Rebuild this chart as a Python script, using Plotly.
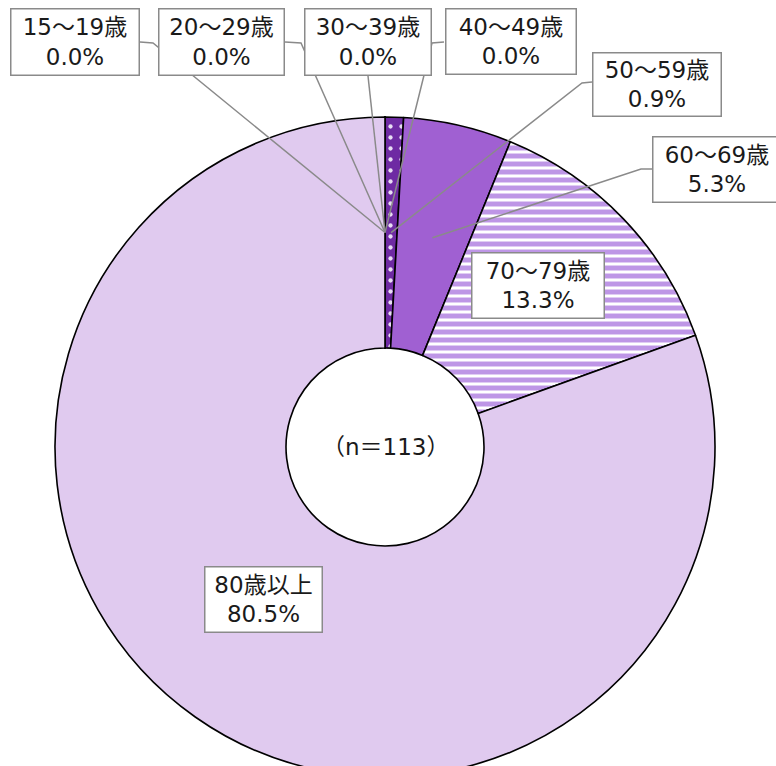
import math
import plotly.graph_objects as go

# ---- data ----
categories = ["15～19歳", "20～29歳", "30～39歳", "40～49歳",
              "50～59歳", "60～69歳", "70～79歳", "80歳以上"]
percent = [0.0, 0.0, 0.0, 0.0, 0.9, 5.3, 13.3, 80.5]
n_total = 113
center_text = "（n＝113）"

# ---- styles ----
slice_colors = ["#6E2AA3", "#6E2AA3", "#6E2AA3", "#6E2AA3",
                "#6E2AA3", "#A060D2", "#FFFFFF", "#E0CAEF"]
pattern_shapes = ["", "", "", "", ".", "", "-", ""]
pattern_fg = ["#FFFFFF", "#FFFFFF", "#FFFFFF", "#FFFFFF",
              "#E8DDF4", "#A060D2", "#BE96E6", "#E0CAEF"]
pattern_bg = ["#6E2AA3", "#6E2AA3", "#6E2AA3", "#6E2AA3",
              "#6E2AA3", "#A060D2", "#FFFFFF", "#E0CAEF"]
pattern_size = [8, 8, 8, 8, 11, 8, 8, 8]
pattern_sol = [0.2, 0.2, 0.2, 0.2, 0.12, 0.3, 0.62, 0.3]

W, H = 776, 790
CX, CY, R = 385, 447, 330
HOLE = 0.3
FONT = "DejaVu Sans, Noto Sans CJK JP, sans-serif"
FS = 23


def px(x):
    return x / W


def py(y):
    return 1 - y / H


fig = go.Figure()
fig.add_trace(go.Pie(
    labels=categories,
    values=percent,
    sort=False,
    direction="clockwise",
    rotation=0,
    hole=HOLE,
    textinfo="none",
    hoverinfo="label+percent",
    showlegend=False,
    domain=dict(x=[px(CX - R), px(CX + R)], y=[py(CY + R), py(CY - R)]),
    marker=dict(
        colors=slice_colors,
        line=dict(color="#000000", width=1.6),
        pattern=dict(shape=pattern_shapes, fgcolor=pattern_fg, bgcolor=pattern_bg,
                     size=pattern_size, solidity=pattern_sol, fillmode="replace"),
    ),
))

# label boxes: (center x, center y, width, height) in pixels
boxes = [
    (74.5, 42.5, 131, 69),
    (221, 42.5, 128, 69),
    (367.5, 41.5, 129, 69),
    (510.5, 41, 133, 68),
    (657, 84.5, 131, 66),
    (717, 169, 131, 68),
    (537.5, 286, 135, 68),
    (263, 599, 120, 68),
]
# leader-line start and elbow points (pixels); None = no leader
leaders = [
    [(140, 42), (153, 43)],
    [(285, 42), (301, 43)],
    [(368, 76)],
    [(444, 42), (432, 43)],
    [(592, 82), (582, 83)],
    [(652, 169), (641, 169)],
    None,
    None,
]

rm = R * (1 + HOLE) / 2
cum = 0.0
total = sum(percent)
for i, (cat, p) in enumerate(zip(categories, percent)):
    f = (cum + p / 2) / total
    cum += p
    th = 2 * math.pi * f
    tx = CX + rm * math.sin(th)
    ty = CY - rm * math.cos(th)
    if leaders[i]:
        pts = leaders[i] + [(tx, ty)]
        path = "M " + " L ".join(f"{px(a):.5f},{py(b):.5f}" for a, b in pts)
        fig.add_shape(type="path", path=path, xref="paper", yref="paper",
                      line=dict(color="#8A8A8A", width=1.5), layer="above")
    bx, by, bw, bh = boxes[i]
    fig.add_annotation(
        x=px(bx), y=py(by), xref="paper", yref="paper",
        xanchor="center", yanchor="middle",
        text=f"{cat}<br>{p:.1f}%",
        showarrow=False,
        width=bw - 4, height=bh - 4,
        align="center", valign="middle",
        bgcolor="#FFFFFF", bordercolor="#8A8A8A", borderwidth=1.5, borderpad=0,
        font=dict(family=FONT, size=FS, color="#1A1A1A"),
    )

fig.add_annotation(
    x=px(CX), y=py(CY), xref="paper", yref="paper",
    xanchor="center", yanchor="middle",
    text=center_text, showarrow=False,
    font=dict(family=FONT, size=FS, color="#1A1A1A"),
)

fig.update_layout(
    width=W, height=H,
    margin=dict(l=0, r=0, t=0, b=0),
    paper_bgcolor="#FFFFFF",
    plot_bgcolor="#FFFFFF",
)

post = ("document.documentElement.style.overflow='hidden';"
        "document.body.style.overflow='hidden';"
        "document.body.style.margin='0';")
fig.write_html("out.html", post_script=post, config={"displayModeBar": False})
